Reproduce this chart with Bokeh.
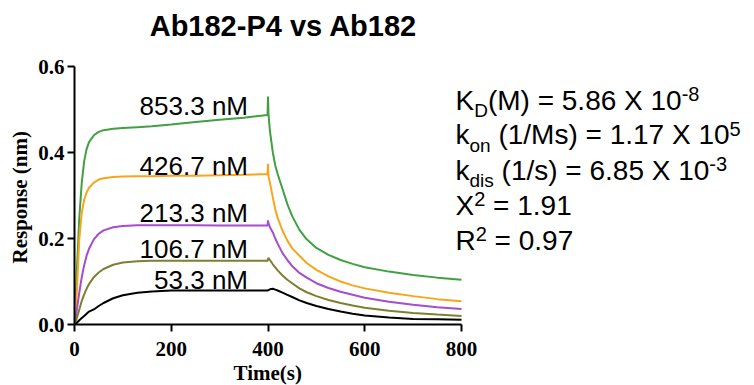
from bokeh.plotting import figure
from bokeh.models import Label, Range1d, FixedTicker, PrintfTickFormatter, Title
from bokeh.embed import file_html
from bokeh.resources import INLINE

# ---------------- data ----------------
time_s = [0, 2, 5, 10, 15, 20, 25, 30, 40, 50, 60, 80, 100, 130, 160, 200, 250, 300, 350, 399,
          400, 401, 404, 410, 415, 420, 430, 440, 450, 465, 480, 500, 525, 550, 575, 600, 650, 700, 750, 800]

resp_853 = [0.000, 0.050, 0.130, 0.250, 0.330, 0.380, 0.408, 0.424, 0.440, 0.448, 0.452, 0.455, 0.457, 0.459, 0.461, 0.465, 0.471, 0.476, 0.481, 0.487,
            0.530, 0.490, 0.450, 0.400, 0.370, 0.350, 0.315, 0.280, 0.252, 0.220, 0.198, 0.178, 0.162, 0.150, 0.141, 0.133, 0.123, 0.115, 0.109, 0.104]
resp_427 = [0.000, 0.030, 0.080, 0.200, 0.260, 0.290, 0.307, 0.318, 0.330, 0.337, 0.340, 0.343, 0.344, 0.345, 0.345, 0.346, 0.346, 0.347, 0.348, 0.350,
            0.374, 0.345, 0.330, 0.295, 0.268, 0.248, 0.218, 0.195, 0.177, 0.160, 0.143, 0.127, 0.112, 0.100, 0.091, 0.084, 0.074, 0.066, 0.059, 0.054]
resp_213 = [0.000, 0.012, 0.035, 0.075, 0.110, 0.138, 0.160, 0.176, 0.198, 0.211, 0.219, 0.226, 0.229, 0.231, 0.231, 0.231, 0.231, 0.230, 0.230, 0.230,
            0.242, 0.236, 0.226, 0.214, 0.200, 0.188, 0.166, 0.150, 0.136, 0.120, 0.109, 0.096, 0.085, 0.076, 0.069, 0.062, 0.053, 0.046, 0.040, 0.036]
resp_107 = [0.000, 0.005, 0.015, 0.035, 0.055, 0.070, 0.083, 0.094, 0.110, 0.121, 0.129, 0.139, 0.144, 0.147, 0.148, 0.148, 0.148, 0.148, 0.148, 0.148,
            0.152, 0.155, 0.150, 0.140, 0.133, 0.126, 0.114, 0.104, 0.096, 0.084, 0.075, 0.066, 0.057, 0.050, 0.044, 0.039, 0.032, 0.027, 0.023, 0.020]
resp_53 = [0.000, 0.001, 0.004, 0.010, 0.015, 0.020, 0.025, 0.030, 0.035, 0.043, 0.050, 0.061, 0.068, 0.074, 0.077, 0.079, 0.079, 0.079, 0.079, 0.079,
           0.079, 0.080, 0.082, 0.083, 0.081, 0.079, 0.074, 0.069, 0.064, 0.056, 0.050, 0.043, 0.036, 0.030, 0.025, 0.021, 0.016, 0.013, 0.012, 0.011]

series_labels = ["853.3 nM", "426.7 nM", "213.3 nM", "106.7 nM", "53.3 nM"]
series_values = [resp_853, resp_427, resp_213, resp_107, resp_53]
series_colors = ["#41a041", "#f7a51c", "#a64ccf", "#7f7f30", "#000000"]
label_y = [0.486, 0.347, 0.238, 0.153, 0.081]

x_ticks = [0, 200, 400, 600, 800]
y_ticks = [0.0, 0.2, 0.4, 0.6]
x_axis_max = 800
y_axis_max = 0.6

title_text = "Ab182-P4 vs Ab182"
x_label = "Time(s)"
y_label = "Response (nm)"

# ---------------- layout geometry (pixels) ----------------
W, H = 754, 385
FRAME_L, FRAME_B = 74, 324          # where x=0 / y=0 sit
SX = 387 / 800.0                    # px per second
SY = 430.0                          # px per response unit
CAP = 0.358                         # half cap-height / font size (Arial)

def dx(px):
    return (px - FRAME_L) / SX
def dy(py):
    return (FRAME_B - py) / SY

p = figure(width=W, height=H, output_backend="svg", toolbar_location=None,
           x_range=Range1d(0, dx(W)), y_range=Range1d(0, dy(0)),
           min_border_left=FRAME_L, min_border_right=0, min_border_top=0,
           min_border_bottom=H - FRAME_B)
p.title.visible = False
p.outline_line_color = None
p.grid.visible = False
p.background_fill_color = "white"
p.border_fill_color = "white"

for ax in (p.xaxis[0], p.yaxis[0]):
    ax.axis_line_width = 2
    ax.major_tick_line_width = 2
    ax.major_tick_out = 7
    ax.major_tick_in = 0
    ax.minor_tick_line_color = None
    ax.major_label_text_font = "Liberation Serif"
    ax.major_label_text_font_style = "bold"
    ax.major_label_text_font_size = "21px"
    ax.major_label_text_color = "black"

p.xaxis.bounds = (0, x_axis_max)
p.yaxis.bounds = (0, y_axis_max)
p.xaxis.ticker = FixedTicker(ticks=x_ticks)
p.yaxis.ticker = FixedTicker(ticks=y_ticks)
p.yaxis.formatter = PrintfTickFormatter(format="%.1f")
p.xaxis.major_label_standoff = 10
p.yaxis.major_label_standoff = 3

# axis titles as side-panel titles so they can be positioned along the axis
p.add_layout(Title(text=x_label, align="left", offset=159, standoff=0,
                   text_font="Liberation Serif", text_font_style="bold",
                   text_font_size="21px", text_color="black"), "below")
p.add_layout(Title(text=y_label, align="left", offset=61, standoff=8,
                   text_font="Liberation Serif", text_font_style="bold",
                   text_font_size="21px", text_color="black"), "left")

for vals, col in zip(series_values, series_colors):
    p.line(time_s, vals, line_color=col, line_width=2)

def text_at(px, base_py, txt, size, align="left", bold=False):
    """place text so that its alphabetic baseline sits at screen row base_py"""
    p.add_layout(Label(x=dx(px), y=dy(base_py - CAP * size), text=txt,
                       text_font="Liberation Sans",
                       text_font_style="bold" if bold else "normal",
                       text_font_size=f"{size}px", text_align=align,
                       text_baseline="middle", text_color="black"))

# chart title
text_at(283, 36, title_text, 29, align="center", bold=True)

# concentration labels
for lab, ly in zip(series_labels, label_y):
    text_at(247.5, FRAME_B - ly * SY, lab, 26, align="right")

# right-hand kinetics text block
ARIAL = {" ": .278, "(": .333, ")": .333, "=": .584, ".": .278, "/": .278, "-": .333,
         "K": .667, "D": .722, "M": .833, "X": .667, "R": .722, "k": .5, "o": .556,
         "n": .556, "d": .556, "i": .222, "s": .5}
def tw(s, size):
    return sum(ARIAL.get(c, .556) for c in s) * size

MAIN, SUB, SUP = 28, 19, 20
lines = [
    [("K", 0), ("D", -1), ("(M) = 5.86 X 10", 0), ("-8", 1)],
    [("k", 0), ("on", -1), (" (1/Ms) = 1.17 X 10", 0), ("5", 1)],
    [("k", 0), ("dis", -1), (" (1/s) = 6.85 X 10", 0), ("-3", 1)],
    [("X", 0), ("2", 1), (" = 1.91", 0)],
    [("R", 0), ("2", 1), (" = 0.97", 0)],
]
baselines = [110, 144.5, 180, 215, 250]
x0 = 455
for parts, base in zip(lines, baselines):
    xp = x0
    for txt, kind in parts:
        size = MAIN if kind == 0 else (SUB if kind == -1 else SUP)
        lead = len(txt) - len(txt.lstrip(" "))
        xp += tw(" " * lead, size)
        txt = txt.lstrip(" ")
        yp = base + (7 if kind == -1 else (-9 if kind == 1 else 0))
        text_at(xp, yp, txt, size)
        xp += tw(txt, size)

open("out.html", "w").write(file_html(p, INLINE))
